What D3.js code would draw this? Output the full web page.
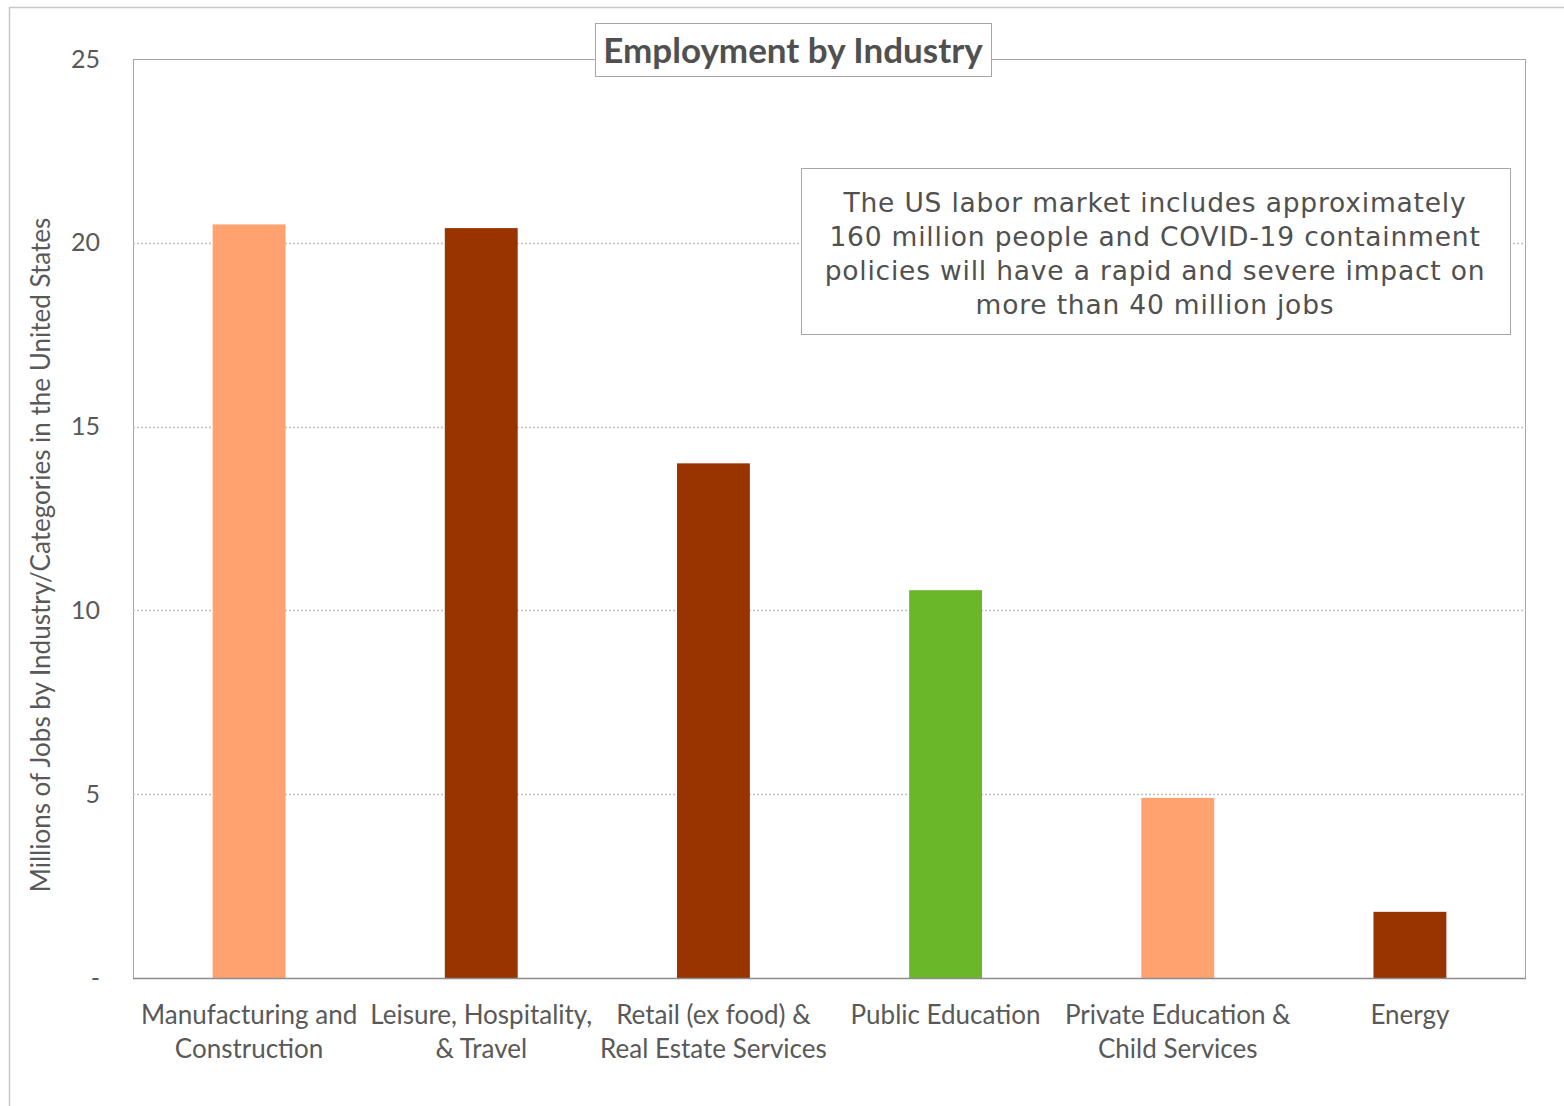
<!DOCTYPE html>
<html>
<head>
<meta charset="utf-8">
<script src="https://cdn.jsdelivr.net/npm/d3@7"></script>
<style>
  html, body { margin: 0; padding: 0; background: #fff; }
  svg { display: block; }
</style>
</head>
<body>
<svg id="chart" width="1564" height="1106"></svg>
<script>
// Employment by industry, millions of jobs
const categories = [
  ["Manufacturing and", "Construction"],
  ["Leisure, Hospitality,", "& Travel"],
  ["Retail (ex food) &", "Real Estate Services"],
  ["Public Education"],
  ["Private Education &", "Child Services"],
  ["Energy"]
];
const jobs = [20.5, 20.4, 14.0, 10.55, 4.9, 1.8];
const barColors = ["#FFA270", "#993300", "#993300", "#6BB72A", "#FFA270", "#993300"];
const yTicks = [0, 5, 10, 15, 20, 25];
const yTickLabels = ["-", "5", "10", "15", "20", "25"];
const noteLines = [
  "The US labor market includes approximately",
  "160 million people and COVID-19 containment",
  "policies will have a rapid and severe impact on",
  "more than 40 million jobs"
];

const svg = d3.select("#chart");
const textColor = "#595959";
const labelFont = "Lato, 'Open Sans', sans-serif";

// outer chart frame
svg.append("rect")
  .attr("x", 9.5).attr("y", 7.5)
  .attr("width", 1600).attr("height", 1200)
  .attr("fill", "none").attr("stroke", "#c8c8c8").attr("stroke-width", 1.5);

const plot = { left: 133, right: 1526, top: 59, bottom: 978 };

const x = d3.scaleBand()
  .domain(d3.range(categories.length))
  .range([plot.left, plot.right])
  .paddingInner(0.686)
  .paddingOuter(0.343);

const y = d3.scaleLinear()
  .domain([0, 25])
  .range([plot.bottom, plot.top]);

// plot area border
svg.append("rect")
  .attr("x", plot.left + 0.5).attr("y", plot.top + 0.5)
  .attr("width", plot.right - plot.left - 1).attr("height", plot.bottom - plot.top)
  .attr("fill", "none").attr("stroke", "#a6a6a6").attr("stroke-width", 1);

// dotted gridlines
svg.append("g")
  .selectAll("line")
  .data(yTicks.filter(t => t > 0 && t < 25))
  .join("line")
  .attr("x1", plot.left).attr("x2", plot.right)
  .attr("y1", d => Math.round(y(d)) + 0.5).attr("y2", d => Math.round(y(d)) + 0.5)
  .attr("stroke", "#bfbfbf").attr("stroke-width", 1.3)
  .attr("stroke-dasharray", "2,2");

// bars
svg.append("g")
  .selectAll("rect")
  .data(jobs)
  .join("rect")
  .attr("x", (d, i) => x(i))
  .attr("width", x.bandwidth())
  .attr("y", d => y(d))
  .attr("height", d => y(0) - y(d))
  .attr("fill", (d, i) => barColors[i]);

// baseline
svg.append("line")
  .attr("x1", plot.left).attr("x2", plot.right)
  .attr("y1", plot.bottom + 0.5).attr("y2", plot.bottom + 0.5)
  .attr("stroke", "#8c8c8c").attr("stroke-width", 1.5);

// y axis labels
const yAxis = d3.axisLeft(y)
  .tickValues(yTicks)
  .tickSize(0)
  .tickPadding(33)
  .tickFormat((d, i) => yTickLabels[i]);
const gy = svg.append("g")
  .attr("transform", `translate(${plot.left},0)`)
  .call(yAxis);
gy.select(".domain").remove();
gy.selectAll("text")
  .attr("font-family", labelFont)
  .attr("font-size", 25)
  .attr("fill", textColor);

// y axis title
svg.append("text")
  .attr("transform", `translate(50,555) rotate(-90)`)
  .attr("text-anchor", "middle")
  .attr("font-family", labelFont)
  .attr("font-size", 26)
  .attr("fill", textColor)
  .text("Millions of Jobs by Industry/Categories  in the United States");

// x category labels
const gx = svg.append("g");
categories.forEach((lines, i) => {
  const t = gx.append("text")
    .attr("x", x(i) + x.bandwidth() / 2)
    .attr("y", 1024)
    .attr("text-anchor", "middle")
    .attr("font-family", labelFont)
    .attr("font-size", 26)
    .attr("fill", textColor);
  lines.forEach((ln, j) => {
    t.append("tspan")
      .attr("x", x(i) + x.bandwidth() / 2)
      .attr("dy", j === 0 ? 0 : 34)
      .text(ln);
  });
});

// title box
svg.append("rect")
  .attr("x", 595.5).attr("y", 23.5)
  .attr("width", 396).attr("height", 53)
  .attr("fill", "#fff").attr("stroke", "#a6a6a6").attr("stroke-width", 1);
svg.append("text")
  .attr("x", 793).attr("y", 63)
  .attr("text-anchor", "middle")
  .attr("font-family", labelFont)
  .attr("font-weight", "bold")
  .attr("font-size", 35)
  .attr("fill", "#505050")
  .text("Employment by Industry");

// annotation box
svg.append("rect")
  .attr("x", 801.5).attr("y", 168.5)
  .attr("width", 709).attr("height", 166)
  .attr("fill", "#fff").attr("stroke", "#a6a6a6").attr("stroke-width", 1);
const note = svg.append("text")
  .attr("text-anchor", "middle")
  .attr("font-family", "'DejaVu Sans', Verdana, sans-serif")
  .attr("font-size", 26.5)
  .attr("letter-spacing", 0.8)
  .attr("fill", "#505050");
noteLines.forEach((ln, j) => {
  note.append("tspan")
    .attr("x", 1155)
    .attr("y", 212 + j * 34)
    .text(ln);
});
</script>
</body>
</html>
